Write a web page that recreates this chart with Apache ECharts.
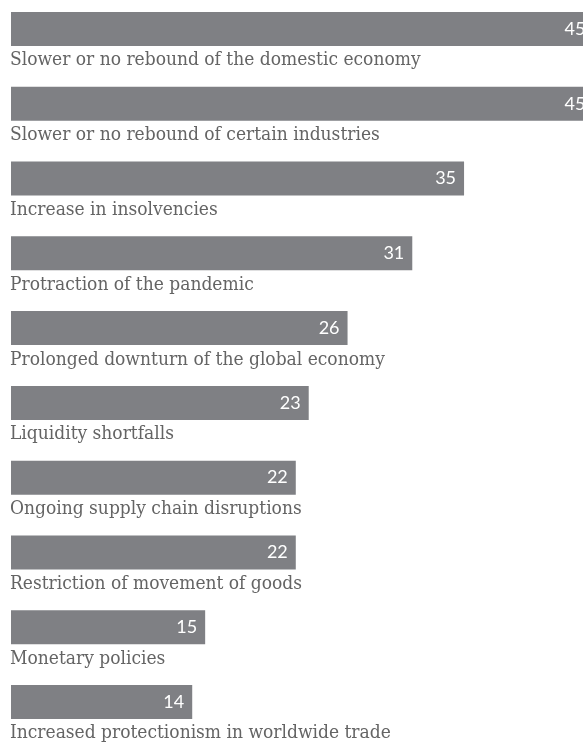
<!DOCTYPE html>
<html>
<head>
<meta charset="utf-8">
<script src="https://cdn.jsdelivr.net/npm/echarts@6/dist/echarts.min.js"></script>
<style>
  html, body { margin: 0; padding: 0; background: #fff; }
  #chart { width: 583px; height: 743px; }
</style>
</head>
<body>
<div id="chart"></div>
<script>
// Risk factors, share of respondents (%)
const categories = [
  'Slower or no rebound of the domestic economy',
  'Slower or no rebound of certain industries',
  'Increase in insolvencies',
  'Protraction of the pandemic',
  'Prolonged downturn of the global economy',
  'Liquidity shortfalls',
  'Ongoing supply chain disruptions',
  'Restriction of movement of goods',
  'Monetary policies',
  'Increased protectionism in worldwide trade'
];
const values = [45, 45, 35, 31, 26, 23, 22, 22, 15, 14];

const chart = echarts.init(document.getElementById('chart'));
chart.setOption({
  animation: false,
  grid: {
    left: 11, width: 582.5, top: -8.4, height: 747.8,
    containLabel: false,
    outerBoundsMode: 'none'
  },
  xAxis: {
    type: 'value', min: 0, max: 45,
    show: false
  },
  yAxis: {
    type: 'category',
    data: categories,
    inverse: true,
    axisLine: { show: false },
    axisTick: { show: false },
    splitLine: { show: false },
    axisLabel: {
      inside: true,
      margin: -1,
      align: 'left',
      verticalAlign: 'top',
      padding: [22, 0, 0, 0],
      fontFamily: "'DejaVu Serif Condensed', 'Liberation Serif'",
      fontSize: 19,
      color: '#646464'
    }
  },
  series: [{
    type: 'bar',
    data: values,
    barWidth: 34,
    clip: false,
    itemStyle: { color: '#7f8084' },
    label: {
      show: true,
      position: 'insideRight',
      distance: 8,
      color: '#ffffff',
      fontFamily: 'Lato',
      fontSize: 18
    }
  }]
});
</script>
</body>
</html>
